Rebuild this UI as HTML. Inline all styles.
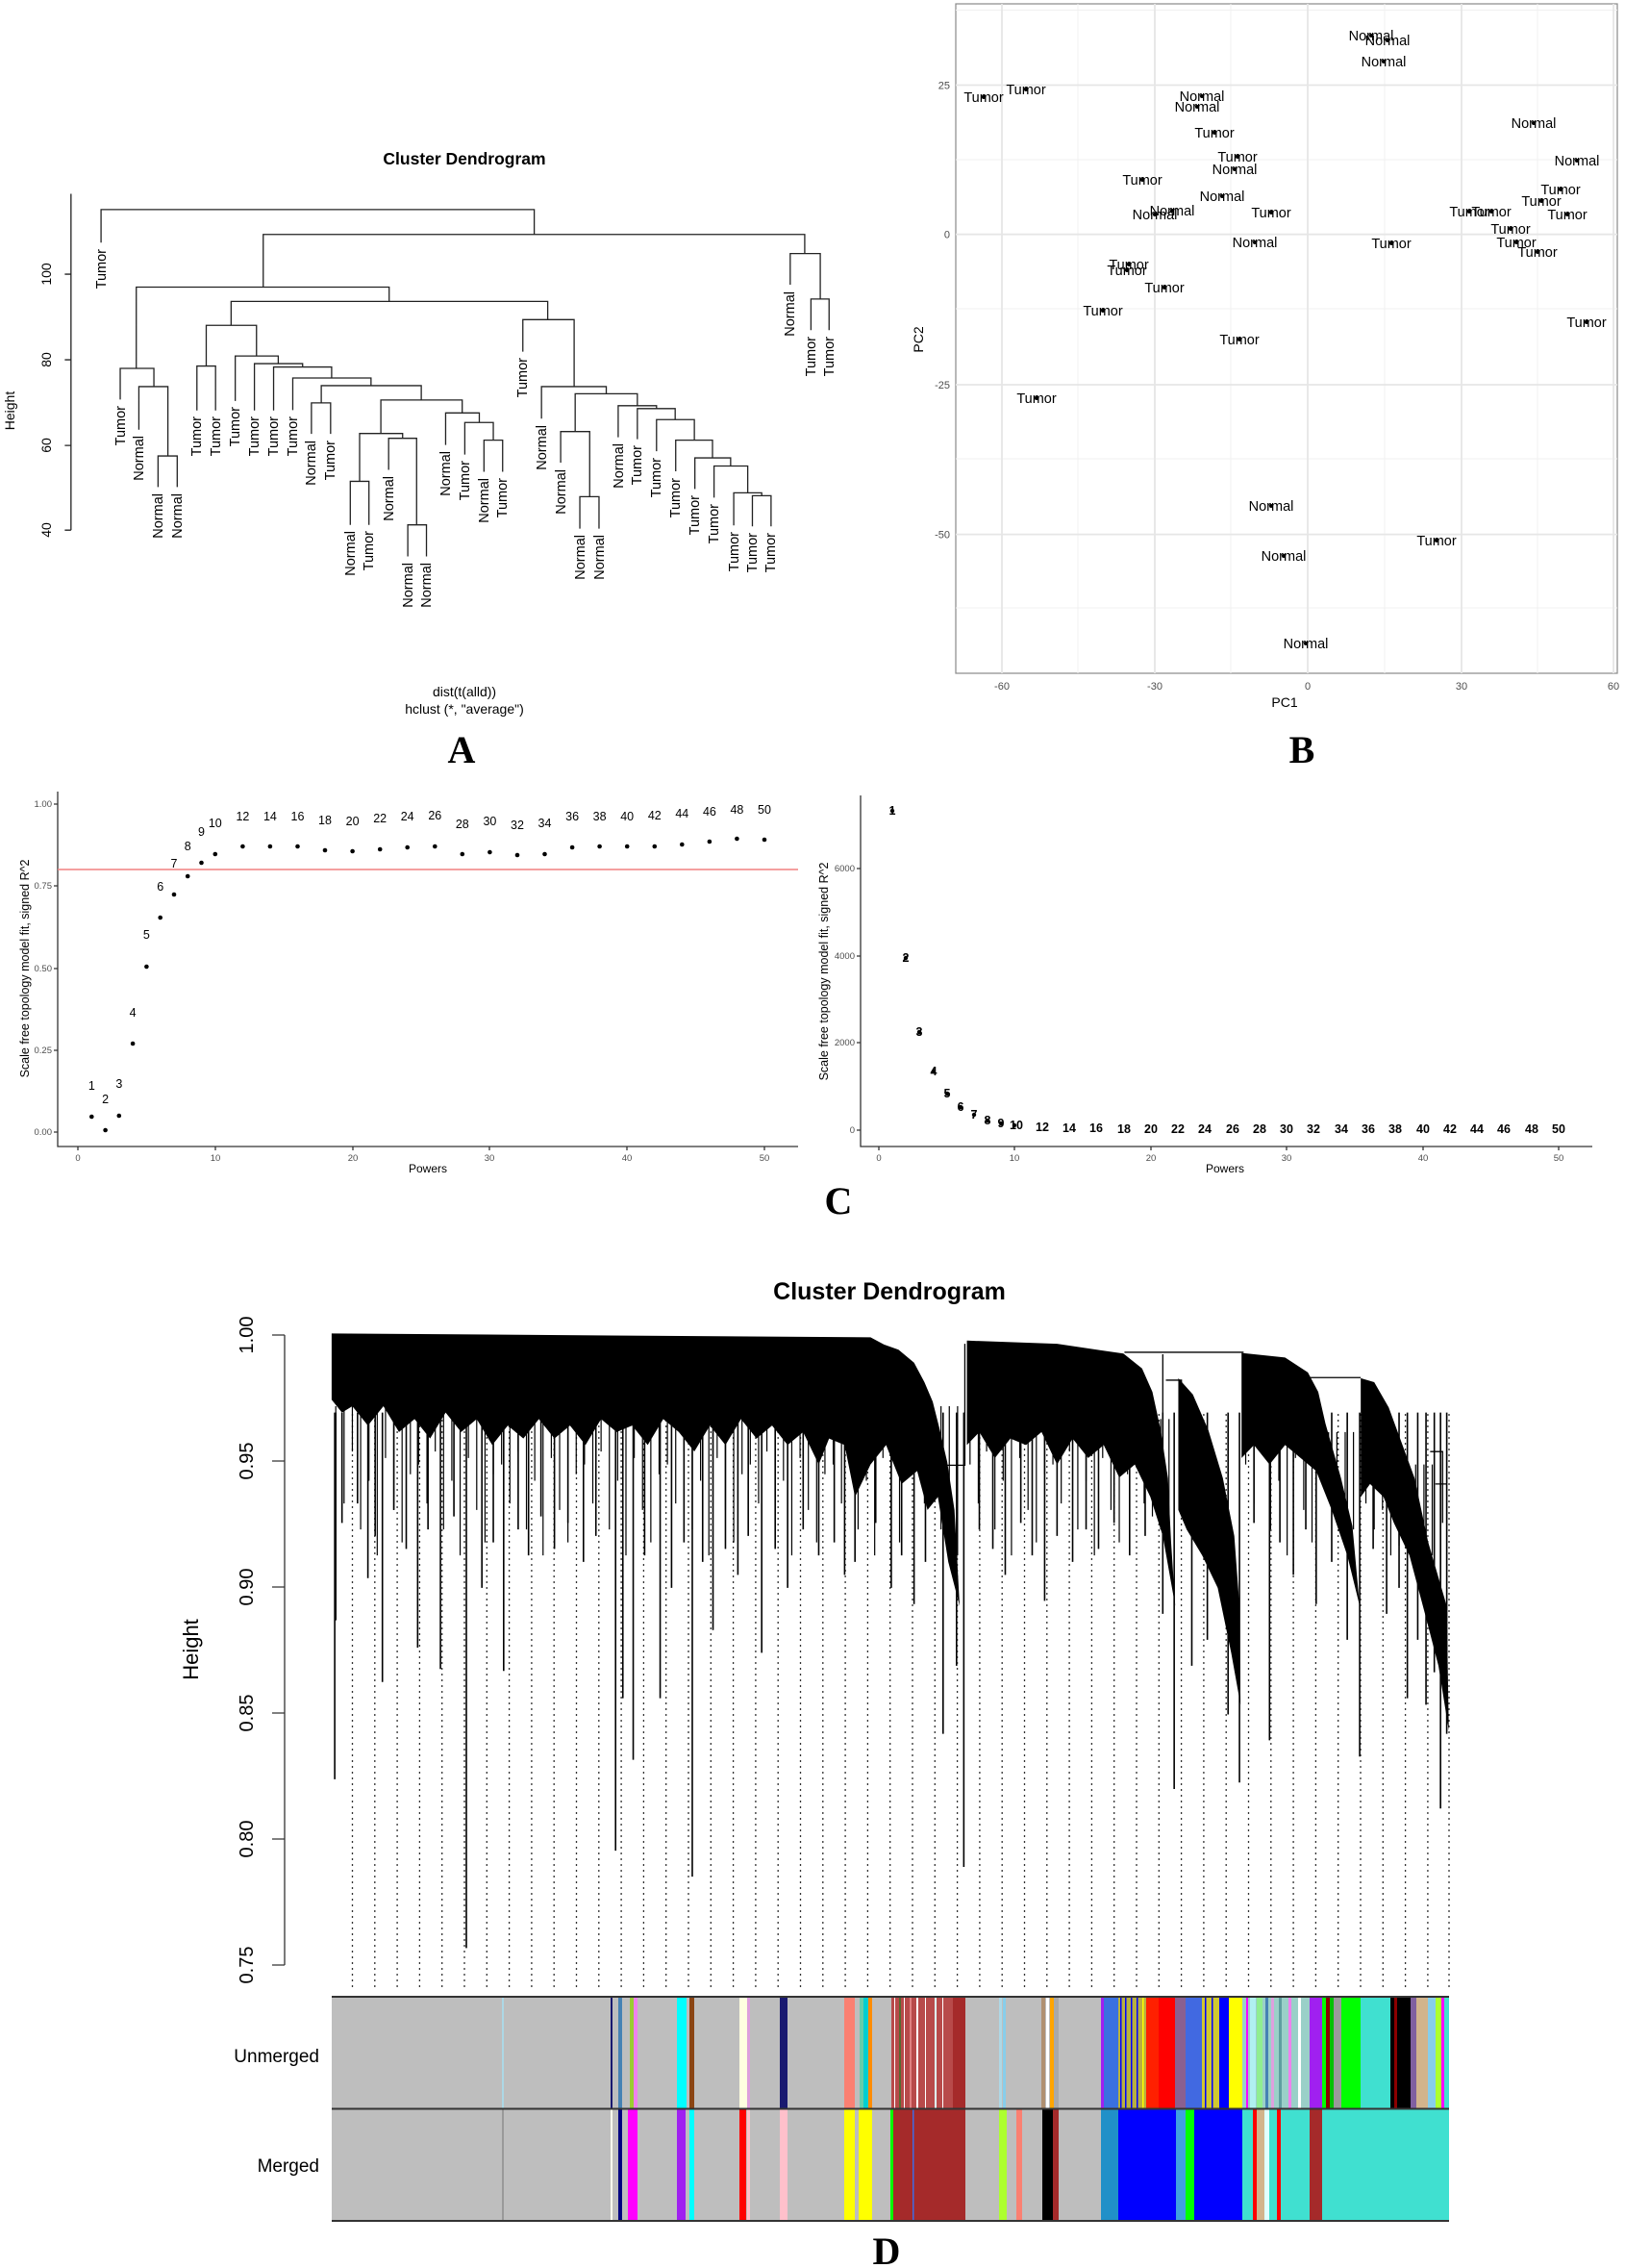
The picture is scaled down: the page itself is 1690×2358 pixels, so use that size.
<!DOCTYPE html>
<html><head><meta charset="utf-8"><style>
html,body{margin:0;padding:0;background:#fff;}
svg{display:block;}
text{font-family:"Liberation Sans",Arial,sans-serif;}
.L{font-family:"Liberation Serif",serif;font-weight:bold;font-size:40px;}
</style></head><body>
<svg width="1690" height="2358" viewBox="0 0 1690 2358" xmlns="http://www.w3.org/2000/svg">
<rect width="1690" height="2358" fill="#fff"/>

<!-- ============ PANEL A ============ -->
<text x="483" y="171" font-size="17.5" font-weight="bold" text-anchor="middle">Cluster Dendrogram</text>
<svg x="0" y="0" width="845" height="780" viewBox="0 0 1568 1568" preserveAspectRatio="none" overflow="visible">
<path fill="none" stroke="#222" stroke-width="1.3" vector-effect="non-scaling-stroke" d="
M305 1018V953H342V1018 M268 898V808H324V953 M232 835V770H297V808 M380 858V765H416V858
M601 907V842H638V907 M676 1097V1006H712V1097 M787 1163V1097H823V1163 M750 982V916H804V1097
M694 1006V906H777V916 M934 986V920H970V986 M897 950V883H952V920 M860 930V863H925V883
M735 906V836H892V863 M620 842V806H813V836 M565 857V790H716V806 M528 858V767H640V790
M491 858V760H584V767 M454 838V744H537V760 M398 765V680H495V744 M1119 1105V1038H1156V1105
M1082 967V902H1138V1038 M1452 1100V1036H1488V1100 M1416 1098V1030H1470V1036 M1378 1040V974H1443V1030
M1341 1022V957H1410V974 M1304 985V920H1375V957 M1267 943V877H1340V920 M1230 918V854H1303V877
M1193 914V848H1267V854 M1110 902V823H1230V848 M1045 875V808H1170V823 M1009 735V668H1108V808
M446 680V630H1057V668 M263 770V600H751V630 M1565 690V625H1600V690 M1525 595V530H1583V625
M508 600V490H1553V530 M195 507V438H1031V490
M137 405V1108 M125 573H137 M125 752H137 M125 931H137 M125 1108H137"/>
</svg>
<g font-size="14.5" text-anchor="end">
<text transform="translate(110,259) rotate(-90)">Tumor</text>
<text transform="translate(130,422) rotate(-90)">Tumor</text>
<text transform="translate(149,453) rotate(-90)">Normal</text>
<text transform="translate(169,513) rotate(-90)">Normal</text>
<text transform="translate(189,513) rotate(-90)">Normal</text>
<text transform="translate(209,433) rotate(-90)">Tumor</text>
<text transform="translate(229,433) rotate(-90)">Tumor</text>
<text transform="translate(249,423) rotate(-90)">Tumor</text>
<text transform="translate(269,433) rotate(-90)">Tumor</text>
<text transform="translate(289,433) rotate(-90)">Tumor</text>
<text transform="translate(309,433) rotate(-90)">Tumor</text>
<text transform="translate(328,458) rotate(-90)">Normal</text>
<text transform="translate(348,458) rotate(-90)">Tumor</text>
<text transform="translate(369,552) rotate(-90)">Normal</text>
<text transform="translate(388,552) rotate(-90)">Tumor</text>
<text transform="translate(409,495) rotate(-90)">Normal</text>
<text transform="translate(429,585) rotate(-90)">Normal</text>
<text transform="translate(448,585) rotate(-90)">Normal</text>
<text transform="translate(468,469) rotate(-90)">Normal</text>
<text transform="translate(488,479) rotate(-90)">Tumor</text>
<text transform="translate(508,497) rotate(-90)">Normal</text>
<text transform="translate(527,497) rotate(-90)">Tumor</text>
<text transform="translate(548,372) rotate(-90)">Tumor</text>
<text transform="translate(568,442) rotate(-90)">Normal</text>
<text transform="translate(588,488) rotate(-90)">Normal</text>
<text transform="translate(608,556) rotate(-90)">Normal</text>
<text transform="translate(628,556) rotate(-90)">Normal</text>
<text transform="translate(648,461) rotate(-90)">Normal</text>
<text transform="translate(667,463) rotate(-90)">Tumor</text>
<text transform="translate(687,476) rotate(-90)">Tumor</text>
<text transform="translate(707,497) rotate(-90)">Tumor</text>
<text transform="translate(727,515) rotate(-90)">Tumor</text>
<text transform="translate(747,524) rotate(-90)">Tumor</text>
<text transform="translate(768,553) rotate(-90)">Tumor</text>
<text transform="translate(787,554) rotate(-90)">Tumor</text>
<text transform="translate(806,554) rotate(-90)">Tumor</text>
<text transform="translate(826,303) rotate(-90)">Normal</text>
<text transform="translate(848,350) rotate(-90)">Tumor</text>
<text transform="translate(867,350) rotate(-90)">Tumor</text>
</g>
<g font-size="14" text-anchor="middle">
<text transform="translate(53,285) rotate(-90)">100</text>
<text transform="translate(53,374) rotate(-90)">80</text>
<text transform="translate(53,463) rotate(-90)">60</text>
<text transform="translate(53,551) rotate(-90)">40</text>
<text transform="translate(15,427) rotate(-90)">Height</text>
<text x="483" y="724">dist(t(alld))</text>
<text x="483" y="742">hclust (*, "average")</text>
</g>
<text class="L" x="480" y="793" text-anchor="middle">A</text>

<!-- ============ PANEL B ============ -->
<rect x="994" y="4" width="688" height="696" fill="#fff" stroke="#888" stroke-width="1.2"/>
<g stroke="#f0f0f0" stroke-width="1">
<line x1="1121" y1="4" x2="1121" y2="700"/><line x1="1280" y1="4" x2="1280" y2="700"/><line x1="1440" y1="4" x2="1440" y2="700"/><line x1="1599" y1="4" x2="1599" y2="700"/>
<line x1="994" y1="10.5" x2="1682" y2="10.5"/><line x1="994" y1="166" x2="1682" y2="166"/><line x1="994" y1="321" x2="1682" y2="321"/><line x1="994" y1="477" x2="1682" y2="477"/><line x1="994" y1="632" x2="1682" y2="632"/>
</g>
<g stroke="#e6e6e6" stroke-width="1.8">
<line x1="1042" y1="4" x2="1042" y2="700"/><line x1="1201" y1="4" x2="1201" y2="700"/><line x1="1360" y1="4" x2="1360" y2="700"/><line x1="1520" y1="4" x2="1520" y2="700"/><line x1="1678" y1="4" x2="1678" y2="700"/>
<line x1="994" y1="88.5" x2="1682" y2="88.5"/><line x1="994" y1="243.7" x2="1682" y2="243.7"/><line x1="994" y1="400" x2="1682" y2="400"/><line x1="994" y1="555.6" x2="1682" y2="555.6"/>
</g>
<g font-size="11" fill="#4d4d4d" text-anchor="middle">
<text x="1042" y="717">-60</text><text x="1201" y="717">-30</text><text x="1360" y="717">0</text><text x="1520" y="717">30</text><text x="1678" y="717">60</text>
</g>
<g font-size="11" fill="#4d4d4d" text-anchor="end">
<text x="988" y="92.5">25</text><text x="988" y="247.7">0</text><text x="988" y="404">-25</text><text x="988" y="559.6">-50</text>
</g>
<text x="1336" y="735" font-size="14" text-anchor="middle">PC1</text>
<text transform="translate(960,353) rotate(-90)" font-size="14" text-anchor="middle">PC2</text>
<g fill="#000">
<circle cx="1426" cy="37" r="2"/><circle cx="1443" cy="42" r="2"/><circle cx="1439" cy="64" r="2"/><circle cx="1023" cy="101" r="2"/><circle cx="1067" cy="93" r="2"/><circle cx="1250" cy="100" r="2"/><circle cx="1245" cy="111" r="2"/><circle cx="1263" cy="138" r="2"/><circle cx="1287" cy="163" r="2"/><circle cx="1284" cy="176" r="2"/><circle cx="1595" cy="128" r="2"/><circle cx="1640" cy="167" r="2"/><circle cx="1188" cy="187" r="2"/><circle cx="1271" cy="204" r="2"/><circle cx="1219" cy="219" r="2"/><circle cx="1201" cy="223" r="2"/><circle cx="1322" cy="221" r="2"/><circle cx="1623" cy="197" r="2"/><circle cx="1603" cy="209" r="2"/><circle cx="1528" cy="220" r="2"/><circle cx="1551" cy="220" r="2"/><circle cx="1630" cy="223" r="2"/><circle cx="1571" cy="238" r="2"/><circle cx="1305" cy="252" r="2"/><circle cx="1447" cy="253" r="2"/><circle cx="1577" cy="252" r="2"/><circle cx="1599" cy="262" r="2"/><circle cx="1174" cy="275" r="2"/><circle cx="1172" cy="281" r="2"/><circle cx="1211" cy="299" r="2"/><circle cx="1147" cy="323" r="2"/><circle cx="1650" cy="335" r="2"/><circle cx="1289" cy="353" r="2"/><circle cx="1078" cy="414" r="2"/><circle cx="1322" cy="526" r="2"/><circle cx="1494" cy="562" r="2"/><circle cx="1335" cy="578" r="2"/><circle cx="1358" cy="669" r="2"/>
</g>
<g font-size="14.5" text-anchor="middle">
<text x="1426" y="42">Normal</text><text x="1443" y="47">Normal</text><text x="1439" y="69">Normal</text>
<text x="1023" y="106">Tumor</text><text x="1067" y="98">Tumor</text>
<text x="1250" y="105">Normal</text><text x="1245" y="116">Normal</text><text x="1263" y="143">Tumor</text>
<text x="1287" y="168">Tumor</text><text x="1284" y="181">Normal</text><text x="1595" y="133">Normal</text>
<text x="1640" y="172">Normal</text><text x="1188" y="192">Tumor</text><text x="1271" y="209">Normal</text>
<text x="1219" y="224">Normal</text><text x="1201" y="228">Normal</text><text x="1322" y="226">Tumor</text>
<text x="1623" y="202">Tumor</text><text x="1603" y="214">Tumor</text><text x="1528" y="225">Tumor</text>
<text x="1551" y="225">Tumor</text><text x="1630" y="228">Tumor</text><text x="1571" y="243">Tumor</text>
<text x="1305" y="257">Normal</text><text x="1447" y="258">Tumor</text><text x="1577" y="257">Tumor</text>
<text x="1599" y="267">Tumor</text><text x="1174" y="280">Tumor</text><text x="1172" y="286">Tumor</text>
<text x="1211" y="304">Tumor</text><text x="1147" y="328">Tumor</text><text x="1650" y="340">Tumor</text>
<text x="1289" y="358">Tumor</text><text x="1078" y="419">Tumor</text><text x="1322" y="531">Normal</text>
<text x="1494" y="567">Tumor</text><text x="1335" y="583">Normal</text><text x="1358" y="674">Normal</text>
</g>
<text class="L" x="1354" y="793" text-anchor="middle">B</text>

<!-- ============ PANEL C left ============ -->
<g stroke="#333" stroke-width="1.3" fill="none">
<path d="M60 823V1192H830"/>
<path d="M56 836H60M56 921H60M56 1007H60M56 1092H60M56 1177H60"/>
<path d="M81 1192V1196M224 1192V1196M367 1192V1196M509 1192V1196M652 1192V1196M795 1192V1196"/>
</g>
<line x1="60" y1="904" x2="830" y2="904" stroke="#f08080" stroke-width="1.5"/>
<g font-size="9.5" fill="#4d4d4d" text-anchor="end">
<text x="54" y="839">1.00</text><text x="54" y="924">0.75</text><text x="54" y="1010">0.50</text><text x="54" y="1095">0.25</text><text x="54" y="1180">0.00</text>
</g>
<g font-size="9.5" fill="#4d4d4d" text-anchor="middle">
<text x="81" y="1207">0</text><text x="224" y="1207">10</text><text x="367" y="1207">20</text><text x="509" y="1207">30</text><text x="652" y="1207">40</text><text x="795" y="1207">50</text>
</g>
<text x="445" y="1219" font-size="12" text-anchor="middle">Powers</text>
<text transform="translate(30,1007) rotate(-90)" font-size="12.5" text-anchor="middle">Scale free topology model fit, signed R^2</text>
<g fill="#000">
<circle cx="95.3" cy="1161" r="2.3"/><circle cx="109.6" cy="1175" r="2.3"/><circle cx="123.8" cy="1160" r="2.3"/><circle cx="138.1" cy="1085" r="2.3"/><circle cx="152.4" cy="1005" r="2.3"/><circle cx="166.7" cy="954" r="2.3"/><circle cx="181" cy="930" r="2.3"/><circle cx="195.2" cy="911" r="2.3"/><circle cx="209.5" cy="897" r="2.3"/><circle cx="223.8" cy="888" r="2.3"/><circle cx="252.4" cy="880" r="2.3"/><circle cx="280.9" cy="880" r="2.3"/><circle cx="309.5" cy="880" r="2.3"/><circle cx="338" cy="884" r="2.3"/><circle cx="366.6" cy="885" r="2.3"/><circle cx="395.2" cy="883" r="2.3"/><circle cx="423.7" cy="881" r="2.3"/><circle cx="452.3" cy="880" r="2.3"/><circle cx="480.8" cy="888" r="2.3"/><circle cx="509.4" cy="886" r="2.3"/><circle cx="538" cy="889" r="2.3"/><circle cx="566.5" cy="888" r="2.3"/><circle cx="595.1" cy="881" r="2.3"/><circle cx="623.6" cy="880" r="2.3"/><circle cx="652.2" cy="880" r="2.3"/><circle cx="680.8" cy="880" r="2.3"/><circle cx="709.3" cy="878" r="2.3"/><circle cx="737.9" cy="875" r="2.3"/><circle cx="766.4" cy="872" r="2.3"/><circle cx="795" cy="873" r="2.3"/>
</g>
<g font-size="12.5" text-anchor="middle">
<text x="95.3" y="1133">1</text><text x="109.6" y="1147">2</text><text x="123.8" y="1131">3</text><text x="138.1" y="1057">4</text><text x="152.4" y="976">5</text><text x="166.7" y="926">6</text><text x="181" y="902">7</text><text x="195.2" y="884">8</text><text x="209.5" y="869">9</text><text x="223.8" y="860">10</text><text x="252.4" y="853">12</text><text x="280.9" y="853">14</text><text x="309.5" y="853">16</text><text x="338" y="857">18</text><text x="366.6" y="858">20</text><text x="395.2" y="855">22</text><text x="423.7" y="853">24</text><text x="452.3" y="852">26</text><text x="480.8" y="861">28</text><text x="509.4" y="858">30</text><text x="538" y="862">32</text><text x="566.5" y="860">34</text><text x="595.1" y="853">36</text><text x="623.6" y="853">38</text><text x="652.2" y="853">40</text><text x="680.8" y="852">42</text><text x="709.3" y="850">44</text><text x="737.9" y="848">46</text><text x="766.4" y="846">48</text><text x="795" y="846">50</text>
</g>

<!-- ============ PANEL C right ============ -->
<g stroke="#333" stroke-width="1.3" fill="none">
<path d="M895 827V1192H1656"/>
<path d="M891 903H895M891 994H895M891 1084H895M891 1175H895"/>
<path d="M914 1192V1196M1055 1192V1196M1197 1192V1196M1338 1192V1196M1480 1192V1196M1621 1192V1196"/>
</g>
<g font-size="9.5" fill="#4d4d4d" text-anchor="end">
<text x="889" y="906">6000</text><text x="889" y="997">4000</text><text x="889" y="1087">2000</text><text x="889" y="1178">0</text>
</g>
<g font-size="9.5" fill="#4d4d4d" text-anchor="middle">
<text x="914" y="1207">0</text><text x="1055" y="1207">10</text><text x="1197" y="1207">20</text><text x="1338" y="1207">30</text><text x="1480" y="1207">40</text><text x="1621" y="1207">50</text>
</g>
<text x="1274" y="1219" font-size="12" text-anchor="middle">Powers</text>
<text transform="translate(861,1010) rotate(-90)" font-size="12.5" text-anchor="middle">Scale free topology model fit, signed R^2</text>
<g fill="#000">
<circle cx="928" cy="843" r="2.2"/><circle cx="942" cy="996" r="2.2"/><circle cx="956" cy="1073" r="2.2"/><circle cx="971" cy="1114" r="2.2"/><circle cx="985" cy="1137" r="2.2"/><circle cx="999" cy="1151" r="2.2"/><circle cx="1013" cy="1159" r="2.2"/><circle cx="1027" cy="1165" r="2.2"/><circle cx="1041" cy="1168" r="2.2"/><circle cx="1055" cy="1170" r="2.2"/>
</g>
<g font-size="12.5" text-anchor="middle" font-weight="bold">
<text x="928" y="847">1</text><text x="942" y="1000">2</text><text x="956" y="1077">3</text><text x="971" y="1118">4</text><text x="985" y="1141">5</text><text x="999" y="1155">6</text><text x="1013" y="1163">7</text><text x="1027" y="1169">8</text><text x="1041" y="1172">9</text><text x="1057" y="1174">10</text><text x="1084" y="1176">12</text><text x="1112" y="1177">14</text><text x="1140" y="1177">16</text><text x="1169" y="1178">18</text><text x="1197" y="1178">20</text><text x="1225" y="1178">22</text><text x="1253" y="1178">24</text><text x="1282" y="1178">26</text><text x="1310" y="1178">28</text><text x="1338" y="1178">30</text><text x="1366" y="1178">32</text><text x="1395" y="1178">34</text><text x="1423" y="1178">36</text><text x="1451" y="1178">38</text><text x="1480" y="1178">40</text><text x="1508" y="1178">42</text><text x="1536" y="1178">44</text><text x="1564" y="1178">46</text><text x="1593" y="1178">48</text><text x="1621" y="1178">50</text>
</g>
<text class="L" x="872" y="1262" text-anchor="middle">C</text>

<!-- ============ PANEL D ============ -->
<text x="925" y="1351" font-size="25" font-weight="bold" text-anchor="middle">Cluster Dendrogram</text>
<g stroke="#333" stroke-width="1.3" stroke-dasharray="2 4">
<path d="M366.5 1470V2068M389.8 1470V2068M413.1 1470V2068M436.4 1470V2068M459.7 1470V2068M483 1470V2068M506.3 1470V2068M529.6 1470V2068M552.9 1470V2068M576.2 1470V2068M599.5 1470V2068M622.8 1470V2068M646.1 1470V2068M669.4 1470V2068M692.7 1470V2068M716 1470V2068M739.3 1470V2068M762.6 1470V2068M785.9 1470V2068M809.2 1470V2068M832.5 1470V2068M855.8 1470V2068M879.1 1470V2068M902.4 1470V2068M925.7 1470V2068M949 1470V2068M972.3 1470V2068M995.6 1470V2068M1018.9 1470V2068M1042.2 1470V2068M1065.5 1470V2068M1088.8 1470V2068M1112.1 1470V2068M1135.4 1470V2068M1158.7 1470V2068M1182 1470V2068M1205.3 1470V2068M1228.6 1470V2068M1251.9 1470V2068M1275.2 1470V2068M1298.5 1470V2068M1321.8 1470V2068M1345.1 1470V2068M1368.4 1470V2068M1391.7 1470V2068M1415 1470V2068M1438.3 1470V2068M1461.6 1470V2068M1484.9 1470V2068M1507 1470V2068"/>
</g>
<svg x="0" y="1300" width="1690" height="1058" viewBox="0 0 1568 1568" preserveAspectRatio="none" overflow="visible">
<g fill="#000">
<polygon points="320,128 840,134 853,145 867,153 882,173 892,203 900,233 906,271 914,326 921,400 926,548 915,480 905,380 895,400 885,340 870,360 855,300 840,330 825,380 815,300 800,290 790,330 775,280 760,300 745,270 730,290 715,260 700,300 685,270 670,310 655,280 640,260 625,300 610,270 595,280 580,260 565,300 550,270 535,290 520,260 505,290 490,270 475,300 460,260 445,280 430,250 415,290 400,260 385,280 370,240 355,270 340,240 330,250 320,230"/>
<polygon points="933,139 1020,144 1084,159 1102,182 1112,218 1120,277 1127,351 1130,449 1134,548 1122,440 1110,380 1095,330 1080,350 1065,300 1050,320 1035,290 1020,330 1005,280 990,300 975,290 960,320 945,280 933,300"/>
<polygon points="1137,197 1151,222 1166,277 1180,351 1191,440 1196,548 1197,700 1188,620 1175,520 1160,470 1145,430 1137,400"/>
<polygon points="1198,158 1240,165 1262,188 1272,218 1279,267 1294,351 1305,425 1312,548 1300,470 1285,400 1270,340 1255,320 1240,300 1225,330 1210,300 1198,320"/>
<polygon points="1313,197 1326,203 1340,242 1365,351 1378,449 1396,548 1398,740 1388,640 1375,560 1360,470 1345,420 1335,380 1322,360 1313,380"/>
</g>
<path fill="none" stroke="#000" stroke-width="1.3" vector-effect="non-scaling-stroke" d="M931 144V331H914 M1085 157H1200 M1262 196H1313 M1122 160V330 M1125 200H1140V400 M1380 310H1392V420 M1385 360H1396"/>
<path fill="none" stroke="#000" stroke-width="1.2" vector-effect="non-scaling-stroke" d="M324 240V330M332 240V390M340 240V310M348 240V430M356 240V355M364 240V470M372 240V320M380 240V400M388 240V450M396 240V345M404 240V330M412 240V390M420 240V310M428 240V430M436 240V355M444 240V470M452 240V320M460 240V400M468 240V450M476 240V345M484 240V330M492 240V390M500 240V310M508 240V430M516 240V355M524 240V470M532 240V320M540 240V400M548 240V450M556 240V345M564 240V330M572 240V390M580 240V310M588 240V430M596 240V355M604 240V470M612 240V320M620 240V400M628 240V450M636 240V345M644 240V330M652 240V390M660 240V310M668 240V430M676 240V355M684 240V470M692 240V320M700 240V400M708 240V450M716 240V345M724 240V330M732 240V390M740 240V310M748 240V430M756 240V355M764 240V470M772 240V320M780 240V400M788 240V450M796 240V345M804 240V330M812 240V390M820 240V310M828 240V430M836 240V355M844 240V470M852 240V320M860 240V400M868 240V450M876 240V345M884 240V330M892 240V390M900 240V310M908 240V430M916 240V355M924 240V470
M936 260V330M944 260V390M952 260V310M960 260V430M968 260V355M976 260V470M984 260V320M992 260V400M1000 260V450M1008 260V345M1016 260V330M1024 260V390M1032 260V310M1040 260V430M1048 260V355M1056 260V470M1064 260V320M1072 260V400M1080 260V450M1088 260V345M1096 260V330M1104 260V390M1112 260V410M1120 260V430M1128 260V455
M1202 280V330M1210 280V390M1218 280V310M1226 280V430M1234 280V355M1242 280V470M1250 280V320M1258 280V400M1266 280V450M1274 280V345M1282 280V330M1290 280V390M1298 280V440M1306 280V430
M1318 330V390M1326 330V430M1334 330V400M1342 330V470M1350 330V455M1358 330V500M1366 330V440M1374 330V520M1382 330V470M1390 330V560"/>
<path fill="none" stroke="#000" stroke-width="1.6" vector-effect="non-scaling-stroke" d="M323 250V815M324 250V570M330 250V420M345 250V390M355 250V505M362 250V440M369 250V665M380 250V400M392 250V460M403 250V612M413 250V430M425 250V645M438 250V410M450 250V1075M465 250V520M476 250V450M486 250V648M500 250V430M510 250V470M522 250V410M535 250V460M548 250V420M563 250V480M575 250V440M594 250V925M601 250V690M611 250V785M622 250V470M637 250V690M648 250V520M660 250V450M668 250V965M678 250V480M688 250V585M700 250V460M712 250V500M722 250V440M735 250V620M748 250V460M760 250V520M775 250V430M790 250V470M805 250V450M815 250V500M825 250V480M845 250V420M860 250V520M870 250V470M882 250V545M893 250V480M910 250V745M923 250V640M930 250V950M945 250V430M958 250V460M970 250V500M985 250V420M996 250V470M1008 250V540M1020 250V440M1035 250V480M1048 250V430M1060 250V460M1075 250V420M1090 250V470M1105 250V440M1122 250V560M1133 250V830M1150 250V640M1165 250V600M1185 250V715M1196 250V820M1210 250V420M1225 250V755M1235 250V450M1248 250V500M1260 250V430M1270 250V545M1285 250V480M1300 250V600M1312 250V780M1325 250V460M1338 250V560M1350 250V520M1358 250V690M1368 250V600M1376 250V700M1384 250V650M1390 250V860M1396 250V745"/>
</svg>
<g stroke="#333" stroke-width="1.3" fill="none">
<path d="M296 1388V2043M283 1388H296M283 1519H296M283 1650H296M283 1781H296M283 1912H296M283 2043H296"/>
</g>
<g font-size="20" text-anchor="middle">
<text transform="translate(263,1388) rotate(-90)">1.00</text>
<text transform="translate(263,1519) rotate(-90)">0.95</text>
<text transform="translate(263,1650) rotate(-90)">0.90</text>
<text transform="translate(263,1781) rotate(-90)">0.85</text>
<text transform="translate(263,1912) rotate(-90)">0.80</text>
<text transform="translate(263,2043) rotate(-90)">0.75</text>
<text transform="translate(206,1715) rotate(-90)" font-size="22">Height</text>
</g>
<g font-size="19" text-anchor="end">
<text x="332" y="2144">Unmerged</text>
<text x="332" y="2258">Merged</text>
</g>
<!-- Unmerged bar -->
<g transform="translate(0,2077)">
<rect x="345" y="0" width="1162" height="115" fill="#bebebe"/>
<rect x="522" width="2" height="115" fill="#add8e6"/>
<rect x="635" width="2" height="115" fill="#191970"/>
<rect x="643" width="4" height="115" fill="#4682b4"/>
<rect x="655" width="4" height="115" fill="#9acd32"/>
<rect x="659" width="4" height="115" fill="#ee82ee"/>
<rect x="704" width="10" height="115" fill="#00ffff"/>
<rect x="717" width="5" height="115" fill="#8b4513"/>
<rect x="769" width="8" height="115" fill="#ffffe0"/>
<rect x="777" width="3" height="115" fill="#dda0dd"/>
<rect x="811" width="8" height="115" fill="#191970"/>
<rect x="878" width="11" height="115" fill="#fa8072"/>
<rect x="894" width="4" height="115" fill="#66cdaa"/>
<rect x="898" width="5" height="115" fill="#00ced1"/>
<rect x="903" width="4" height="115" fill="#ff8c00"/>
<rect x="927" width="64" height="115" fill="#b84a4a"/>
<rect x="930" width="1" height="115" fill="#fff"/><rect x="940" width="1" height="115" fill="#fff"/><rect x="953" width="2" height="115" fill="#fff"/><rect x="962" width="1" height="115" fill="#fff"/><rect x="972" width="2" height="115" fill="#e0ffff"/><rect x="980" width="1" height="115" fill="#fff"/><rect x="935" width="2" height="115" fill="#556b2f"/><rect x="946" width="2" height="115" fill="#e08080"/>
<rect x="991" width="13" height="115" fill="#a52a2a"/>
<rect x="1039" width="3" height="115" fill="#add8e6"/><rect x="1043" width="3" height="115" fill="#87ceeb"/>
<rect x="1083" width="4" height="115" fill="#b09070"/><rect x="1088" width="3" height="115" fill="#fff"/><rect x="1092" width="4" height="115" fill="#ffa500"/><rect x="1096" width="5" height="115" fill="#a9a9a9"/>
<rect x="1145" width="3" height="115" fill="#a020f0"/>
<rect x="1148" width="15" height="115" fill="#3a70e0"/>
<rect x="1163" width="29" height="115" fill="#b8b040"/>
<rect x="1165" width="1.5" height="115" fill="#0000ff"/><rect x="1170" width="1.5" height="115" fill="#0000ff"/><rect x="1176" width="1.5" height="115" fill="#0000ff"/><rect x="1182" width="1.5" height="115" fill="#0000ff"/><rect x="1188" width="1.5" height="115" fill="#ffff00"/>
<rect x="1192" width="13" height="115" fill="#ff2000"/><rect x="1205" width="17" height="115" fill="#ff0000"/>
<rect x="1222" width="11" height="115" fill="#8a6090"/><rect x="1233" width="17" height="115" fill="#4169e1"/>
<rect x="1250" width="18" height="115" fill="#d0c830"/><rect x="1253" width="1.5" height="115" fill="#0000ff"/><rect x="1260" width="1.5" height="115" fill="#0000ff"/>
<rect x="1268" width="10" height="115" fill="#0000ff"/><rect x="1278" width="14" height="115" fill="#ffff00"/>
<rect x="1292" width="70" height="115" fill="#9ad0c8"/>
<rect x="1296" width="2" height="115" fill="#ff00ff"/><rect x="1300" width="6" height="115" fill="#b0f0f0"/><rect x="1307" width="6" height="115" fill="#90ee90"/><rect x="1316" width="3" height="115" fill="#4682b4"/><rect x="1322" width="3" height="115" fill="#dda0dd"/><rect x="1330" width="3" height="115" fill="#5f9ea0"/><rect x="1340" width="3" height="115" fill="#ee82ee"/><rect x="1350" width="3" height="115" fill="#fff"/>
<rect x="1362" width="13" height="115" fill="#a020f0"/>
<rect x="1375" width="4" height="115" fill="#00ff00"/><rect x="1379" width="4" height="115" fill="#8b0000"/><rect x="1383" width="4" height="115" fill="#00c000"/><rect x="1387" width="8" height="115" fill="#999"/>
<rect x="1395" width="20" height="115" fill="#00ff00"/>
<rect x="1415" width="31" height="115" fill="#40e0d0"/>
<rect x="1446" width="4" height="115" fill="#000"/><rect x="1450" width="3" height="115" fill="#8b0000"/><rect x="1453" width="14" height="115" fill="#000"/>
<rect x="1467" width="6" height="115" fill="#8060a0"/><rect x="1473" width="12" height="115" fill="#d2b48c"/><rect x="1485" width="8" height="115" fill="#87ceeb"/><rect x="1493" width="6" height="115" fill="#adff2f"/><rect x="1499" width="3" height="115" fill="#ff00ff"/><rect x="1502" width="5" height="115" fill="#40e0d0"/>
</g>
<!-- Merged bar -->
<g transform="translate(0,2193)">
<rect x="345" y="0" width="1162" height="116" fill="#bebebe"/>
<rect x="522" width="2" height="116" fill="#999"/>
<rect x="635" width="2" height="116" fill="#fffff0"/>
<rect x="643" width="4" height="116" fill="#000080"/>
<rect x="653" width="10" height="116" fill="#ff00ff"/>
<rect x="704" width="9" height="116" fill="#a020f0"/>
<rect x="717" width="5" height="116" fill="#00ffff"/>
<rect x="769" width="7" height="116" fill="#ff0000"/>
<rect x="777" width="3" height="116" fill="#ffc0cb"/>
<rect x="811" width="8" height="116" fill="#ffc0cb"/>
<rect x="878" width="11" height="116" fill="#ffff00"/>
<rect x="893" width="14" height="116" fill="#ffff00"/>
<rect x="926" width="3" height="116" fill="#00ff00"/>
<rect x="929" width="75" height="116" fill="#a52a2a"/>
<rect x="949" width="1.5" height="116" fill="#4169e1"/>
<rect x="1039" width="8" height="116" fill="#adff2f"/>
<rect x="1057" width="6" height="116" fill="#fa8072"/>
<rect x="1084" width="11" height="116" fill="#000"/>
<rect x="1095" width="6" height="116" fill="#a52a2a"/>
<rect x="1145" width="18" height="116" fill="#2090c8"/>
<rect x="1163" width="60" height="116" fill="#0000ff"/>
<rect x="1223" width="10" height="116" fill="#40a0e0"/>
<rect x="1233" width="9" height="116" fill="#00ff00"/>
<rect x="1242" width="50" height="116" fill="#0000ff"/>
<rect x="1292" width="215" height="116" fill="#40e0d0"/>
<rect x="1303" width="4" height="116" fill="#ff0000"/><rect x="1307" width="8" height="116" fill="#d2b48c"/><rect x="1315" width="5" height="116" fill="#e0ffff"/><rect x="1328" width="4" height="116" fill="#ff0000"/><rect x="1362" width="13" height="116" fill="#a52a2a"/>
</g>
<g stroke="#333" stroke-width="2">
<line x1="345" y1="2076" x2="1507" y2="2076"/>
<line x1="345" y1="2192.5" x2="1507" y2="2192.5"/>
<line x1="345" y1="2309" x2="1507" y2="2309"/>
</g>
<text class="L" x="922" y="2354" text-anchor="middle">D</text>
</svg>
</body></html>
